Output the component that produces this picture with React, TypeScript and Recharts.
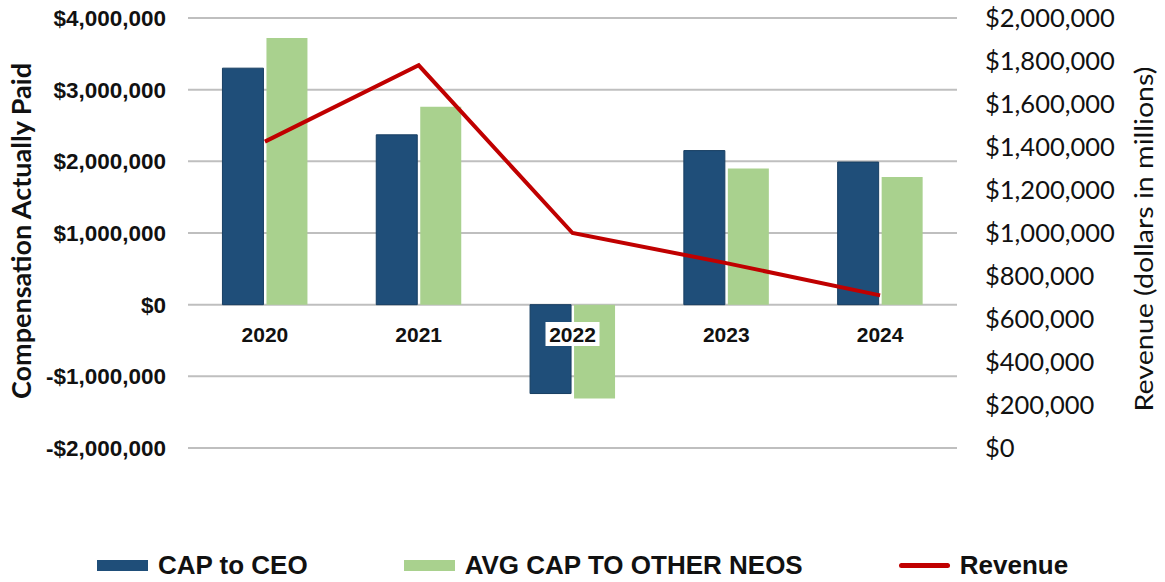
import {
  ComposedChart,
  Bar,
  Line,
  XAxis,
  YAxis,
  CartesianGrid,
  Legend,
} from "recharts";

const years = ["2020", "2021", "2022", "2023", "2024"];
const capToCeo = [3300000, 2370000, -1240000, 2150000, 1990000];
const avgCapNeos = [3720000, 2760000, -1310000, 1900000, 1780000];
const revenue = [1425000, 1780000, 1000000, 860000, 710000];

const leftTicks = [-2000000, -1000000, 0, 1000000, 2000000, 3000000, 4000000];
const rightTicks = [
  0, 200000, 400000, 600000, 800000, 1000000, 1200000, 1400000, 1600000,
  1800000, 2000000,
];

const legendOrder = ["ceo", "neos", "revenue"];

const data = years.map((year, i) => ({
  year,
  ceo: capToCeo[i],
  neos: avgCapNeos[i],
  revenue: revenue[i],
}));

const fmtUsd = (v: number) =>
  (v < 0 ? "-" : "") + "$" + Math.abs(v).toLocaleString("en-US");

// year labels sit on the zero line, not on the bottom of the plot
const LABEL_LIFT = 122;

const YearTick = ({ x, y, payload }: any) => {
  const cy = y - LABEL_LIFT;
  return (
    <g>
      <rect x={x - 27} y={cy - 12} width={54} height={24} fill="#fff" />
      <text
        x={x}
        y={cy}
        textAnchor="middle"
        dominantBaseline="central"
        fontFamily="'Liberation Sans', Arial, sans-serif"
        fontWeight="bold"
        fontSize={21}
        fill="#111"
      >
        {payload.value}
      </text>
    </g>
  );
};

const LeftTitle = ({ viewBox }: any) => {
  const x = viewBox.x + 21;
  const y = viewBox.y + viewBox.height / 2 - 2;
  return (
    <text
      x={x}
      y={y}
      transform={`rotate(-90 ${x} ${y})`}
      textAnchor="middle"
      dominantBaseline="central"
      fontFamily="Lato, 'Open Sans', sans-serif"
      fontWeight="bold"
      fontSize={26}
      textLength={336}
      lengthAdjust="spacingAndGlyphs"
      fill="#111"
    >
      Compensation Actually Paid
    </text>
  );
};

const RightTitle = ({ viewBox }: any) => {
  const x = viewBox.x + viewBox.width - 22;
  const y = viewBox.y + viewBox.height / 2 + 6;
  return (
    <text
      x={x}
      y={y}
      transform={`rotate(-90 ${x} ${y})`}
      textAnchor="middle"
      dominantBaseline="central"
      fontFamily="Lato, 'Open Sans', sans-serif"
      fontSize={25}
      textLength={345}
      lengthAdjust="spacingAndGlyphs"
      fill="#111"
    >
      Revenue (dollars in millions)
    </text>
  );
};

const renderLegend = ({ payload }: any) => {
  const items = [...(payload || [])].sort(
    (a: any, b: any) =>
      legendOrder.indexOf(a.dataKey) - legendOrder.indexOf(b.dataKey)
  );
  return (
    <div
      style={{
        height: 94,
        boxSizing: "border-box",
        paddingTop: 60,
        display: "flex",
        justifyContent: "center",
        alignItems: "center",
        gap: 96,
      }}
    >
      {items.map((p: any) => (
        <div
          key={p.value}
          style={{ display: "flex", alignItems: "center", gap: 10 }}
        >
          {p.type === "line" ? (
            <div
              style={{
                width: 51,
                height: 5,
                borderRadius: 3,
                background: p.color,
              }}
            />
          ) : (
            <div style={{ width: 51, height: 11, background: p.color }} />
          )}
          <span
            style={{
              fontFamily: "'Liberation Sans', Arial, sans-serif",
              fontWeight: "bold",
              fontSize: 26,
              color: "#111",
              lineHeight: "30px",
            }}
          >
            {p.value}
          </span>
        </div>
      ))}
    </div>
  );
};

export default function App() {
  return (
    <div style={{ position: "absolute", left: 0, top: 0, background: "#fff" }}>
      <ComposedChart
        width={1165}
        height={582}
        data={data}
        barCategoryGap="22.4%"
        barGap={3}
        margin={{ top: 18, right: 0, bottom: 0, left: 0 }}
      >
        <CartesianGrid
          yAxisId="left"
          vertical={false}
          stroke="#bfbfbf"
          strokeWidth={2}
        />
        <YAxis
          yAxisId="left"
          width={188}
          domain={[-2000000, 4000000]}
          ticks={leftTicks}
          tickFormatter={fmtUsd}
          axisLine={false}
          tickLine={false}
          tickMargin={16}
          tick={{
            fill: "#111",
            fontSize: 22.5,
            fontWeight: "bold",
            fontFamily: "'Liberation Sans', Arial, sans-serif",
          }}
          label={<LeftTitle />}
        />
        <YAxis
          yAxisId="right"
          orientation="right"
          width={208}
          domain={[0, 2000000]}
          ticks={rightTicks}
          tickFormatter={fmtUsd}
          axisLine={false}
          tickLine={false}
          tickMargin={22}
          tick={{
            fill: "#111",
            fontSize: 25.5,
            fontFamily: "Lato, 'Open Sans', sans-serif",
          }}
          label={<RightTitle />}
        />
        <Bar
          yAxisId="left"
          dataKey="ceo"
          name="CAP to CEO"
          fill="#1f4e79"
          stroke="#173e62"
          strokeWidth={1}
          isAnimationActive={false}
        />
        <Bar
          yAxisId="left"
          dataKey="neos"
          name="AVG CAP TO OTHER NEOS"
          fill="#a9d18e"
          isAnimationActive={false}
        />
        <Line
          yAxisId="right"
          type="linear"
          dataKey="revenue"
          name="Revenue"
          stroke="#c00000"
          strokeWidth={4}
          dot={false}
          activeDot={false}
          isAnimationActive={false}
        />
        <XAxis
          dataKey="year"
          height={40}
          axisLine={false}
          tickLine={false}
          tick={<YearTick />}
          interval={0}
        />
        <Legend verticalAlign="bottom" content={renderLegend} />
      </ComposedChart>
    </div>
  );
}
